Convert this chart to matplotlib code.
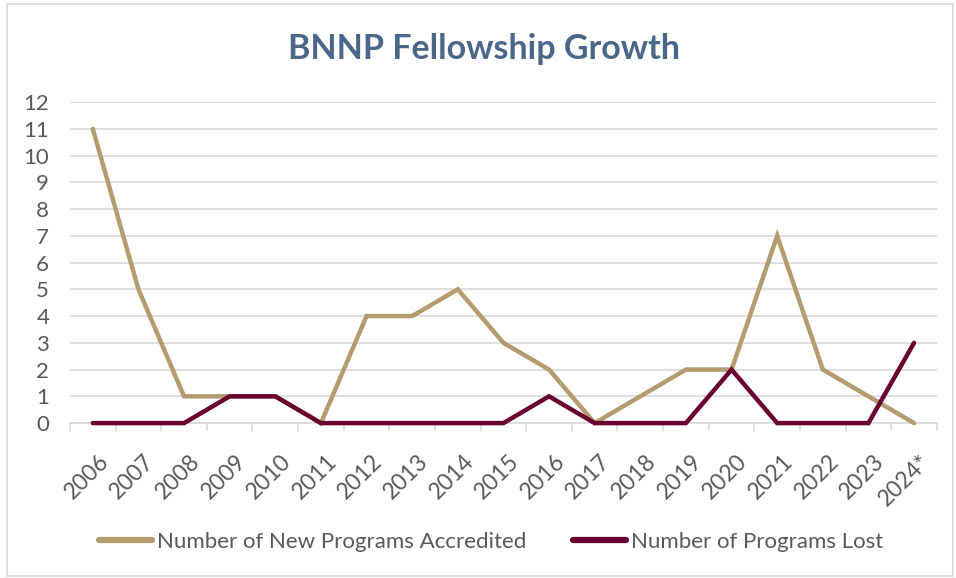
import matplotlib
matplotlib.use("Agg")
import matplotlib.pyplot as plt
from matplotlib.patches import Rectangle
from matplotlib.transforms import ScaledTranslation

years = ["2006", "2007", "2008", "2009", "2010", "2011", "2012", "2013", "2014", "2015",
         "2016", "2017", "2018", "2019", "2020", "2021", "2022", "2023", "2024*"]
new_programs = [11, 5, 1, 1, 1, 0, 4, 4, 5, 3, 2, 0, 1, 2, 2, 7, 2, 1, 0]
lost_programs = [0, 0, 0, 1, 1, 0, 0, 0, 0, 0, 1, 0, 0, 0, 2, 0, 0, 0, 3]

plt.rcParams['font.family'] = ['Lato', 'DejaVu Sans']

fig = plt.figure(figsize=(9.56, 5.78), dpi=100)
fig.patches.append(Rectangle((0.007, 0.004), 0.99, 0.989, transform=fig.transFigure,
                             fill=False, edgecolor='#d9d9d9', linewidth=1.2))
ax = fig.add_axes([0.0732, 0.268, 0.9068, 0.5555])

x = list(range(len(years)))
ax.plot(x, new_programs, color='#b39c6d', linewidth=3.2, label='Number of New Programs Accredited',
        clip_on=False, zorder=3, solid_capstyle='round', solid_joinstyle='miter')
ax.plot(x, lost_programs, color='#6a0032', linewidth=3.2, label='Number of Programs Lost',
        clip_on=False, zorder=4, solid_capstyle='round', solid_joinstyle='miter')

ax.set_xlim(-0.5, len(years) - 0.5)
ax.set_ylim(0, 12)
ax.set_yticks(range(0, 13))
ax.yaxis.grid(True, color='#d9d9d9', linewidth=1.2)
ax.set_axisbelow(True)
for s in ['top', 'right', 'left']:
    ax.spines[s].set_visible(False)
ax.spines['bottom'].set_color('#d9d9d9')
ax.spines['bottom'].set_linewidth(1.2)

# ticks sit between categories, labels under the points
ax.set_xticks([i - 0.5 for i in range(len(years) + 1)])
ax.set_xticklabels([])
ax.set_xticks(x, minor=True)
ax.set_xticklabels(years, minor=True, rotation=45, ha='right', va='top',
                   rotation_mode='anchor', fontsize=16.5, color='#595959')
ax.tick_params(axis='x', which='major', length=6, color='#d9d9d9', width=1.2)
ax.tick_params(axis='x', which='minor', length=0, pad=20)
ax.tick_params(axis='y', length=0, labelsize=16, labelcolor='#595959', pad=15)
shift = ScaledTranslation(5 / 100, 0, fig.dpi_scale_trans)
for lbl in ax.get_xticklabels(minor=True):
    lbl.set_transform(lbl.get_transform() + shift)

fig.text(0.506, 0.915, 'BNNP Fellowship Growth', ha='center', va='center',
         fontsize=24.5, fontweight='bold', color='#4a6689')

leg = fig.legend(loc='center', bbox_to_anchor=(0.514, 0.062), ncol=2, frameon=False,
                 fontsize=16, labelcolor='#595959', handlelength=2.35, columnspacing=2.1,
                 handletextpad=0.25)
for h in leg.get_lines():
    h.set_linewidth(4.5)

fig.savefig('out.png', dpi=100)
